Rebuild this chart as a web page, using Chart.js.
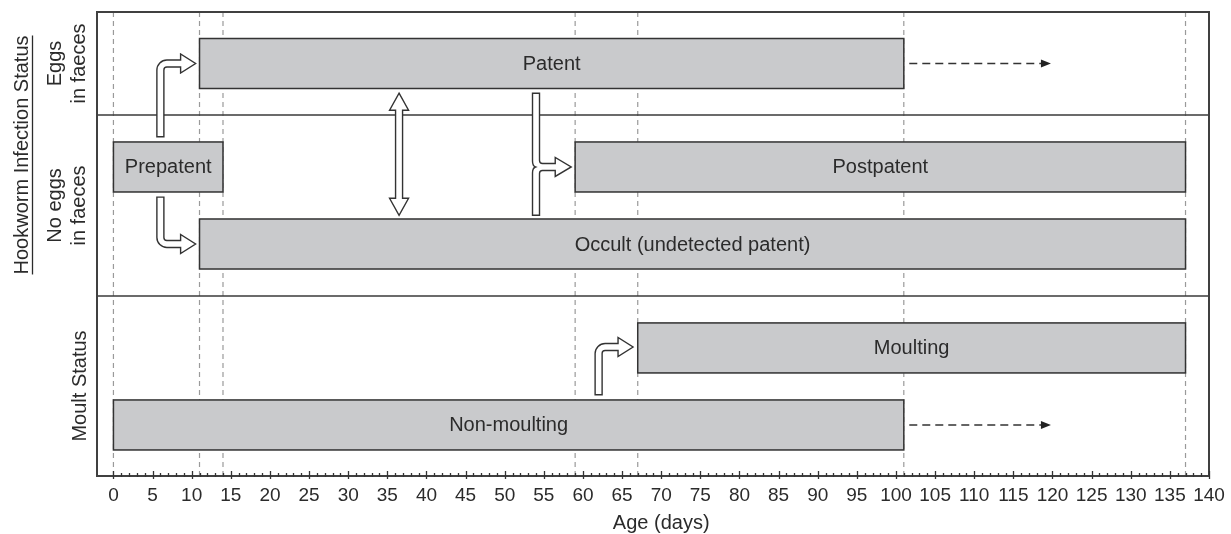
<!DOCTYPE html>
<html>
<head>
<meta charset="utf-8">
<script src="https://cdn.jsdelivr.net/npm/chart.js@4"></script>
<style>
  body { margin: 0; background: #fff; }
  #wrap { width: 1231px; height: 534px; }
</style>
</head>
<body>
<div id="wrap"><canvas id="stageChart" width="1231" height="534"></canvas></div>
<script>
// phases of infection / moult, x = age in days, y = row position (0 top .. 100 bottom)
const phases = ['Patent', 'Prepatent', 'Postpatent', 'Occult (undetected patent)', 'Moulting', 'Non-moulting'];
const phaseStart = [11, 0, 59, 11, 67, 0];
const phaseEnd = [101, 14, 137, 137, 137, 101];
const phaseRow = [11.1, 33.4, 33.4, 50, 72.4, 89];

const markerDays = [0, 11, 14, 59, 67, 101, 137];
const rowDividers = [22.2, 61.2];
const tickDays = [];
for (let d = 0; d <= 140; d += 5) tickDays.push(d);

// "continues" dashed arrows after the last observed day
const continueFrom = [101.7, 101.7];
const continueTo = [119.8, 119.8];
const continueRow = [11.1, 89];

const FONT = '"Liberation Sans", Arial, sans-serif';
const INK = '#2b2b2b';

function hollowBent(ctx, sx, y0, yc, xt) {
  const w = 3.5, h = 9.5, L = 15, s = yc < y0 ? -1 : 1;
  ctx.beginPath();
  ctx.moveTo(sx - w, y0);
  ctx.arcTo(sx - w, yc + s * w, xt, yc + s * w, 10);
  ctx.lineTo(xt - L, yc + s * w);
  ctx.lineTo(xt - L, yc + s * h);
  ctx.lineTo(xt, yc);
  ctx.lineTo(xt - L, yc - s * h);
  ctx.lineTo(xt - L, yc - s * w);
  ctx.arcTo(sx + w, yc - s * w, sx + w, y0, 3);
  ctx.lineTo(sx + w, y0);
  ctx.closePath();
  ctx.fill();
  ctx.stroke();
}

function hollowDouble(ctx, sx, yt, yb) {
  const w = 3.5, h = 9.5, L = 17;
  ctx.beginPath();
  ctx.moveTo(sx, yt);
  ctx.lineTo(sx + h, yt + L);
  ctx.lineTo(sx + w, yt + L);
  ctx.lineTo(sx + w, yb - L);
  ctx.lineTo(sx + h, yb - L);
  ctx.lineTo(sx, yb);
  ctx.lineTo(sx - h, yb - L);
  ctx.lineTo(sx - w, yb - L);
  ctx.lineTo(sx - w, yt + L);
  ctx.lineTo(sx - h, yt + L);
  ctx.closePath();
  ctx.fill();
  ctx.stroke();
}

function hollowBranch(ctx, sx, yt, yb, ym, xt) {
  const w = 3.5, h = 9.5, L = 16;
  ctx.beginPath();
  ctx.moveTo(sx - w, yt);
  ctx.lineTo(sx + w, yt);
  ctx.lineTo(sx + w, ym - w - 3);
  ctx.quadraticCurveTo(sx + w, ym - w, sx + w + 3, ym - w);
  ctx.lineTo(xt - L, ym - w);
  ctx.lineTo(xt - L, ym - h);
  ctx.lineTo(xt, ym);
  ctx.lineTo(xt - L, ym + h);
  ctx.lineTo(xt - L, ym + w);
  ctx.lineTo(sx + w + 3, ym + w);
  ctx.quadraticCurveTo(sx + w, ym + w, sx + w, ym + w + 3);
  ctx.lineTo(sx + w, yb);
  ctx.lineTo(sx - w, yb);
  ctx.lineTo(sx - w, ym + 6);
  ctx.quadraticCurveTo(sx - w, ym + 1, sx - w + 3, ym);
  ctx.quadraticCurveTo(sx - w, ym - 1, sx - w, ym - 6);
  ctx.closePath();
  ctx.fill();
  ctx.stroke();
}

function vtext(ctx, str, x, y) {
  ctx.save();
  ctx.translate(x, y);
  ctx.rotate(-Math.PI / 2);
  ctx.fillText(str, 0, 0);
  ctx.restore();
}

const diagramPlugin = {
  id: 'diagram',
  beforeDatasetsDraw(chart) {
    const { ctx, chartArea: a, scales: { x, y } } = chart;
    ctx.save();
    ctx.strokeStyle = '#9a9a9a';
    ctx.lineWidth = 1.2;
    ctx.setLineDash([5, 4]);
    markerDays.forEach(d => {
      const px = x.getPixelForValue(d);
      ctx.beginPath();
      ctx.moveTo(px, a.top);
      ctx.lineTo(px, a.bottom);
      ctx.stroke();
    });
    ctx.setLineDash([]);
    ctx.strokeStyle = '#3a3a3a';
    ctx.lineWidth = 1.5;
    rowDividers.forEach(r => {
      const py = y.getPixelForValue(r);
      ctx.beginPath();
      ctx.moveTo(a.left, py);
      ctx.lineTo(a.right, py);
      ctx.stroke();
    });
    ctx.restore();
  },
  afterDatasetsDraw(chart) {
    const { ctx, chartArea: a, scales: { x, y } } = chart;
    const meta = chart.getDatasetMeta(0);
    ctx.save();

    // bar outlines (centred on the bar edge) and labels
    ctx.strokeStyle = '#333';
    ctx.lineWidth = 1.5;
    meta.data.forEach(bar => {
      const h = bar.height;
      ctx.strokeRect(bar.base, bar.y - h / 2, bar.x - bar.base, h);
    });
    ctx.fillStyle = INK;
    ctx.font = '20px ' + FONT;
    ctx.textAlign = 'center';
    ctx.textBaseline = 'middle';
    meta.data.forEach((bar, i) => {
      ctx.fillText(phases[i], (bar.x + bar.base) / 2, bar.y + 1);
    });

    // hollow arrows
    ctx.fillStyle = '#fff';
    ctx.strokeStyle = '#333';
    ctx.lineWidth = 1.4;
    ctx.lineJoin = 'miter';
    hollowBent(ctx, x.getPixelForValue(6), y.getPixelForValue(26.9), y.getPixelForValue(11.1), x.getPixelForValue(10.5));
    hollowBent(ctx, x.getPixelForValue(6), y.getPixelForValue(39.9), y.getPixelForValue(50), x.getPixelForValue(10.5));
    hollowBent(ctx, x.getPixelForValue(62), y.getPixelForValue(82.5), y.getPixelForValue(72.2), x.getPixelForValue(66.4));
    hollowDouble(ctx, x.getPixelForValue(36.5), y.getPixelForValue(17.5), y.getPixelForValue(43.8));
    hollowBranch(ctx, x.getPixelForValue(54), y.getPixelForValue(17.5), y.getPixelForValue(43.8), y.getPixelForValue(33.4), x.getPixelForValue(58.5));

    // dashed "continues" arrows
    ctx.strokeStyle = '#333';
    ctx.fillStyle = '#222';
    ctx.lineWidth = 1.6;
    continueRow.forEach((r, i) => {
      const py = y.getPixelForValue(r);
      const x0 = x.getPixelForValue(continueFrom[i]);
      const x1 = x.getPixelForValue(continueTo[i]);
      ctx.setLineDash([8, 5]);
      ctx.beginPath();
      ctx.moveTo(x0, py);
      ctx.lineTo(x1 - 8, py);
      ctx.stroke();
      ctx.setLineDash([]);
      ctx.beginPath();
      ctx.moveTo(x1, py);
      ctx.lineTo(x1 - 10, py - 4);
      ctx.lineTo(x1 - 10, py + 4);
      ctx.closePath();
      ctx.fill();
    });

    // frame
    ctx.strokeStyle = '#404040';
    ctx.lineWidth = 2;
    ctx.beginPath();
    ctx.moveTo(a.left, a.bottom);
    ctx.lineTo(a.left, a.top);
    ctx.lineTo(a.right, a.top);
    ctx.lineTo(a.right, a.bottom);
    ctx.stroke();
    ctx.beginPath();
    ctx.moveTo(a.left - 1, a.bottom);
    ctx.lineTo(a.right + 1, a.bottom);
    ctx.stroke();

    // x ticks: minor every day, major every 5
    ctx.lineWidth = 1.3;
    ctx.strokeStyle = '#333';
    for (let d = 0; d <= 140; d++) {
      const px = Math.round(x.getPixelForValue(d)) + 0.5;
      const major = d % 5 === 0;
      ctx.beginPath();
      ctx.moveTo(px, a.bottom - (major ? 5 : 3));
      ctx.lineTo(px, a.bottom + (major ? 3 : 1));
      ctx.stroke();
    }
    ctx.fillStyle = INK;
    ctx.font = '19px ' + FONT;
    ctx.textAlign = 'center';
    ctx.textBaseline = 'middle';
    tickDays.forEach(d => ctx.fillText(String(d), x.getPixelForValue(d), a.bottom + 20));
    ctx.font = '20px ' + FONT;
    ctx.fillText('Age (days)', x.getPixelForValue(70), a.bottom + 47);

    // side labels
    const rowMid = (r0, r1) => (y.getPixelForValue(r0) + y.getPixelForValue(r1)) / 2;
    const cy = rowMid(0, 61.2) + 1;
    vtext(ctx, 'Hookworm Infection Status', 22, cy);
    const tw = ctx.measureText('Hookworm Infection Status').width;
    ctx.strokeStyle = INK;
    ctx.lineWidth = 1.3;
    ctx.beginPath();
    ctx.moveTo(32.5, cy - tw / 2);
    ctx.lineTo(32.5, cy + tw / 2);
    ctx.stroke();
    const eggMid = rowMid(0, 22.2);
    vtext(ctx, 'Eggs', 55, eggMid);
    vtext(ctx, 'in faeces', 79, eggMid);
    const noEggMid = rowMid(22.2, 61.2);
    vtext(ctx, 'No eggs', 55, noEggMid);
    vtext(ctx, 'in faeces', 79, noEggMid);
    vtext(ctx, 'Moult Status', 80, rowMid(61.2, 100));
    ctx.restore();
  }
};

new Chart(document.getElementById('stageChart'), {
  type: 'bar',
  data: {
    datasets: [{
      data: phases.map((p, i) => ({ x: [phaseStart[i], phaseEnd[i]], y: phaseRow[i] })),
      backgroundColor: '#c9cacc',
      borderWidth: 0,
      barThickness: 50
    }]
  },
  options: {
    indexAxis: 'y',
    responsive: false,
    animation: false,
    layout: { padding: { left: 97, right: 22, top: 12, bottom: 58 } },
    plugins: { legend: { display: false }, tooltip: { enabled: false } },
    scales: {
      x: { type: 'linear', min: -2.1, max: 140, display: false },
      y: { type: 'linear', min: 0, max: 100, reverse: true, offset: false, display: false }
    }
  },
  plugins: [diagramPlugin]
});
</script>
</body>
</html>
